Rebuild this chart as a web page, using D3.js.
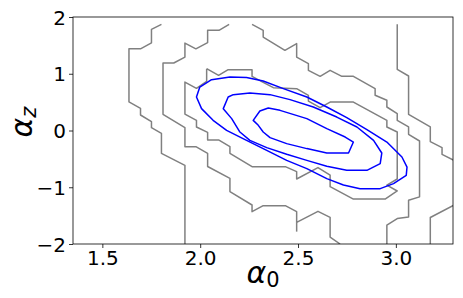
<!DOCTYPE html>
<html>
<head>
<meta charset="utf-8">
<title>Contours</title>
<style>
  body { margin: 0; background: #fff; }
  text { font-family: "DejaVu Sans", sans-serif; }
</style>
</head>
<body>
<script src="https://cdn.jsdelivr.net/npm/d3@7"></script>
<script>
// axis ticks
var xTicks = [1.5, 2.0, 2.5, 3.0];
var yTicks = [-2, -1, 0, 1, 2];

// gray (histogram) contours, [alpha0, alphaz] points
var grayOuter = [
  [[1.802,1.871],[1.751,1.783],[1.751,1.545],[1.695,1.439],[1.636,1.439],[1.636,0.505],[1.695,0.391],[1.695,0.273],[1.751,0.156],[1.751,0.050],[1.802,-0.050],[1.802,-0.402],[1.922,-0.614],[1.922,-2.0]],
  [[3.007,1.871],[3.007,1.078],[3.065,0.960],[3.065,0.285],[3.176,0.063],[3.176,-0.196],[3.236,-0.302],[3.236,-0.420],[3.294,-0.520]],
  [[3.294,-1.319],[3.176,-1.533],[3.176,-2.0]]
];
var grayMiddle = [
  [[2.148,1.871],[2.096,1.765],[2.038,1.765],[2.038,1.549],[1.978,1.439],[1.922,1.541],[1.922,1.294],[1.865,1.189],[1.810,1.189],[1.810,0.285],[1.922,0.050],[1.922,-0.285],[1.978,-0.285],[2.038,-0.402],[2.038,-0.634],[2.152,-0.843],[2.152,-1.077],[2.265,-1.313],[2.265,-1.430],[2.322,-1.324],[2.435,-1.324],[2.493,-1.430],[2.493,-1.618],[2.602,-1.424],[2.664,-1.530],[2.664,-1.877],[2.715,-2.0]],
  [[2.493,-1.618],[2.493,-1.782]],
  [[2.265,1.871],[2.322,1.765],[2.322,1.647],[2.433,1.413],[2.493,1.531],[2.493,1.294],[2.553,1.178],[2.553,1.060],[2.613,0.954],[2.664,1.060],[2.724,0.954],[2.783,0.954],[2.894,0.737],[2.894,0.620],[2.954,0.532],[2.954,0.414],[3.007,0.298],[3.007,0.180],[3.065,0.063],[3.065,-0.067],[3.121,-0.185],[3.121,-1.169],[3.065,-1.230],[3.065,-1.523],[3.007,-1.551],[2.954,-1.668],[2.954,-2.0]]
];
var grayInner = [
  [[2.033,1.090],[2.094,0.972],[2.143,1.072],[2.265,1.072],[2.265,0.954],[2.322,0.849],[2.374,0.755],[2.493,0.737],[2.553,0.620],[2.553,0.519],[2.613,0.402],[2.664,0.501],[2.783,0.501],[2.954,0.179],[2.954,0.061],[3.007,-0.027],[3.007,-0.855],[2.954,-0.961],[3.007,-1.066],[2.945,-1.208],[2.783,-1.208],[2.664,-0.989],[2.664,-0.785],[2.602,-0.654],[2.493,-0.855],[2.493,-0.725],[2.435,-0.637],[2.265,-0.637],[2.152,-0.402],[2.152,-0.284],[2.096,-0.168],[2.038,-0.168],[2.038,-0.032],[1.981,0.061],[1.981,0.179],[1.922,0.290],[1.922,0.854],[1.981,0.743],[2.033,0.866],[2.033,1.090]]
];

// blue contours (closed)
var blueOuter = [[1.981,0.590],[1.998,0.766],[2.058,0.896],[2.152,0.942],[2.237,0.932],[2.322,0.872],[2.425,0.738],[2.545,0.590],[2.647,0.414],[2.749,0.227],[2.852,0.015],[2.954,-0.203],[3.031,-0.467],[3.057,-0.644],[3.053,-0.790],[2.988,-0.936],[2.920,-1.025],[2.817,-1.025],[2.732,-0.960],[2.647,-0.848],[2.545,-0.672],[2.442,-0.526],[2.340,-0.349],[2.237,-0.173],[2.135,0.003],[2.066,0.179],[2.007,0.385]];
var blueMiddle = [[2.118,0.385],[2.143,0.590],[2.169,0.632],[2.254,0.660],[2.357,0.632],[2.459,0.544],[2.578,0.414],[2.698,0.237],[2.801,0.061],[2.886,-0.173],[2.928,-0.397],[2.920,-0.584],[2.852,-0.702],[2.749,-0.702],[2.647,-0.631],[2.545,-0.526],[2.442,-0.420],[2.340,-0.302],[2.254,-0.173],[2.203,-0.027],[2.161,0.209]];
var blueInner = [[2.271,0.179],[2.305,0.343],[2.348,0.396],[2.408,0.355],[2.545,0.209],[2.647,0.033],[2.741,-0.115],[2.783,-0.203],[2.758,-0.397],[2.647,-0.397],[2.545,-0.319],[2.442,-0.231],[2.357,-0.126],[2.322,-0.027],[2.297,0.091]];

var W = 463, H = 298;
var plotL = 73, plotR = 453, plotT = 17, plotB = 244;

var svg = d3.select("body").append("svg")
  .attr("width", W).attr("height", H);

var x = d3.scaleLinear().domain([1.35, 3.292]).range([plotL, plotR]);
var y = d3.scaleLinear().domain([-2, 2]).range([plotB, plotT]);

svg.append("clipPath").attr("id", "clip")
  .append("rect")
  .attr("x", plotL).attr("y", plotT)
  .attr("width", plotR - plotL).attr("height", plotB - plotT);

var plot = svg.append("g").attr("clip-path", "url(#clip)");

var openLine = d3.line().x(function(d){ return x(d[0]); }).y(function(d){ return y(d[1]); });
var loopLine = d3.line().curve(d3.curveLinearClosed)
  .x(function(d){ return x(d[0]); }).y(function(d){ return y(d[1]); });

plot.selectAll("path.gray")
  .data(grayOuter.concat(grayMiddle, grayInner))
  .enter().append("path")
  .attr("class", "gray")
  .attr("d", openLine)
  .attr("fill", "none")
  .attr("stroke", "#808080")
  .attr("stroke-width", 1.5)
  .attr("stroke-linejoin", "round");

plot.selectAll("path.blue")
  .data([blueOuter, blueMiddle, blueInner])
  .enter().append("path")
  .attr("class", "blue")
  .attr("d", loopLine)
  .attr("fill", "none")
  .attr("stroke", "#0000ff")
  .attr("stroke-width", 1.5)
  .attr("stroke-linejoin", "round");

// axes
var fmtX = d3.format(".1f");
var fmtY = function(d){ return d < 0 ? "\u2212" + Math.abs(d) : String(d); };

var gx = svg.append("g")
  .attr("transform", "translate(0," + plotB + ")")
  .call(d3.axisBottom(x).tickValues(xTicks).tickFormat(fmtX).tickSize(4).tickPadding(3));
var gy = svg.append("g")
  .attr("transform", "translate(" + plotL + ",0)")
  .call(d3.axisLeft(y).tickValues(yTicks).tickFormat(fmtY).tickSize(4).tickPadding(3));

[gx, gy].forEach(function(g){
  g.select(".domain").remove();
  g.selectAll("line").attr("stroke", "#000").attr("stroke-width", 0.8);
  g.selectAll("text")
    .attr("fill", "#000")
    .style("font-family", "DejaVu Sans")
    .style("font-size", "20px");
});
gy.selectAll("text").attr("dy", "0.35em");

// frame
svg.append("rect")
  .attr("x", plotL).attr("y", plotT)
  .attr("width", plotR - plotL).attr("height", plotB - plotT)
  .attr("fill", "none")
  .attr("stroke", "#000")
  .attr("stroke-width", 0.8);

// axis labels
var xl = svg.append("text")
  .attr("x", (plotL + plotR) / 2)
  .attr("y", 283)
  .attr("text-anchor", "middle")
  .style("font-size", "30px");
xl.append("tspan").style("font-style", "italic").text("\u03b1");
xl.append("tspan").attr("dy", 4).style("font-size", "21px").text("0");

var yl = svg.append("text")
  .attr("transform", "translate(32,122) rotate(-90)")
  .attr("text-anchor", "middle")
  .style("font-size", "30px");
yl.append("tspan").style("font-style", "italic").text("\u03b1");
yl.append("tspan").attr("dy", 4).style("font-size", "21px").style("font-style", "italic").text("z");
</script>
</body>
</html>
